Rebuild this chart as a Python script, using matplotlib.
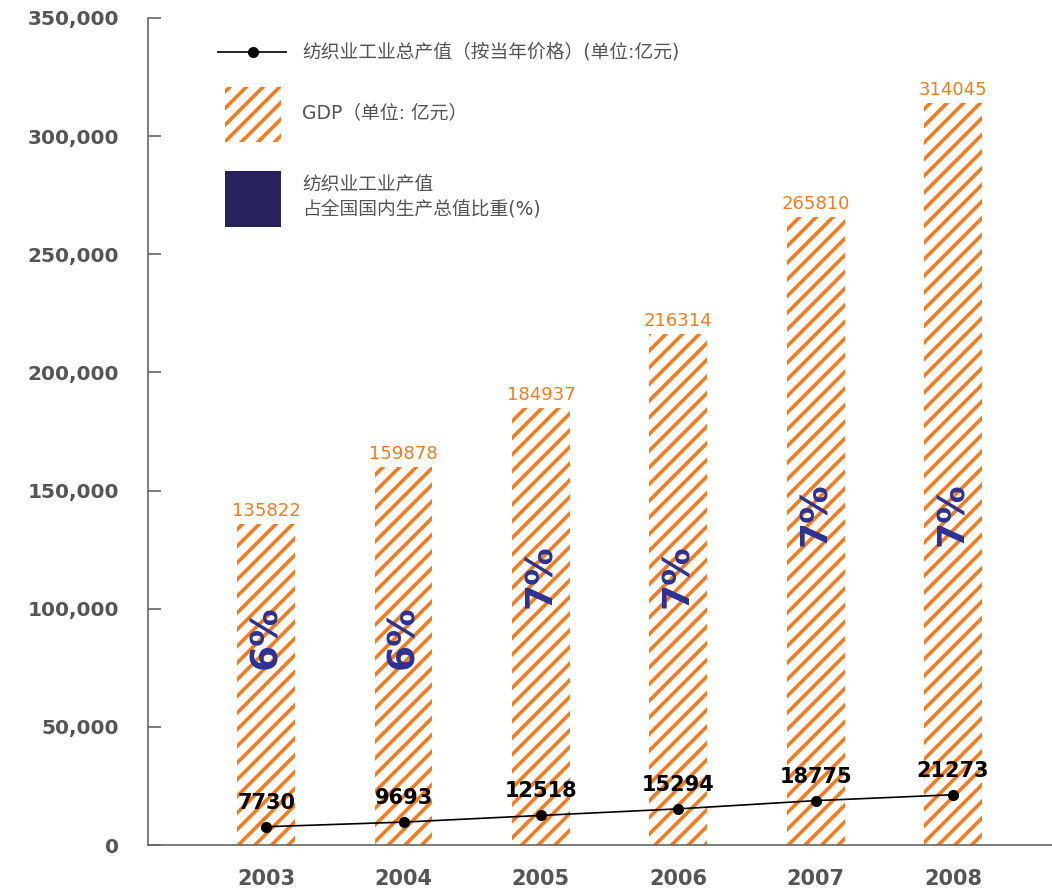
import numpy as np
import matplotlib.pyplot as plt
from matplotlib.patches import Rectangle
from matplotlib.lines import Line2D
from matplotlib.ticker import FuncFormatter

plt.rcParams['font.family'] = ['DejaVu Sans']
plt.rcParams['hatch.linewidth'] = 2.6

# Data
years = ["2003", "2004", "2005", "2006", "2007", "2008"]
gdp = [135822, 159878, 184937, 216314, 265810, 314045]
textile = [7730, 9693, 12518, 15294, 18775, 21273]
share = ["6%", "6%", "7%", "7%", "7%", "7%"]
share_label_y = [88000, 88000, 114000, 114000, 140000, 140000]

orange = "#F47B20"
navy_txt = "#2E3192"
navy_box = "#27215E"
grey = "#555555"
cjk = ['DejaVu Sans', 'Noto Sans CJK SC']

fig = plt.figure(figsize=(10.52, 8.88), dpi=100)
ax = fig.add_axes([148 / 1052, 43 / 888, 1 - 148 / 1052, (845 - 18) / 888])

x = np.arange(len(years))
ax.bar(x, gdp, width=0.42, color="white", edgecolor=orange, hatch="//", linewidth=0)

for xi, v in zip(x, gdp):
    ax.annotate(str(v), (xi, v), xytext=(0, 6), textcoords="offset points",
                ha="center", va="baseline", color=orange, fontsize=13)

for xi, s, yy in zip(x, share, share_label_y):
    ax.text(xi, yy, s, rotation=90, ha="center", va="center", color=navy_txt,
            fontsize=27, fontweight="bold")

ax.plot(x, textile, color="black", lw=1.2, marker="o", ms=7, zorder=3)
for xi, v in zip(x, textile):
    ax.annotate(str(v), (xi, v), xytext=(0, 13), textcoords="offset points",
                ha="center", va="baseline", color="black", fontsize=15,
                fontweight="bold")

ax.set_xlim(-0.86, 5.72)
ax.set_ylim(0, 350000)
ax.set_yticks(np.arange(0, 350001, 50000))
ax.yaxis.set_major_formatter(FuncFormatter(lambda v, p: f"{int(v):,}"))
ax.set_xticks(x)
ax.set_xticklabels(years)

for s in ["top", "right"]:
    ax.spines[s].set_visible(False)
for s in ["left", "bottom"]:
    ax.spines[s].set_color("#666666")
    ax.spines[s].set_linewidth(1.2)

ax.tick_params(axis="y", direction="in", length=9, width=1.2, color="#666666",
               pad=21, labelsize=14.5, labelcolor=grey)
ax.tick_params(axis="x", length=0, pad=17, labelsize=15, labelcolor=grey)
for lab in ax.get_xticklabels() + ax.get_yticklabels():
    lab.set_fontweight("bold")

# Legend drawn in pixel space
lg = fig.add_axes([0, 0, 1, 1])
lg.set_xlim(0, 1052)
lg.set_ylim(888, 0)
lg.axis("off")
lg.add_line(Line2D([218, 286], [52, 52], color="black", lw=1.2))
lg.plot([253], [52], "o", color="black", ms=7)
lg.text(302, 52, "纺织业工业总产值（按当年价格）(单位:亿元)", va="center", ha="left",
        fontsize=13.5, color=grey, family=cjk)
lg.add_patch(Rectangle((225, 87), 56, 55, facecolor="white", edgecolor=orange,
                       hatch="//", linewidth=0))
lg.text(302, 113, "GDP（单位: 亿元）", va="center", ha="left",
        fontsize=13.5, color=grey, family=cjk)
lg.add_patch(Rectangle((225, 171), 56, 56, facecolor=navy_box, linewidth=0))
lg.text(302, 197, "纺织业工业产值\n占全国国内生产总值比重(%)", va="center", ha="left",
        fontsize=13.5, color=grey, family=cjk, linespacing=1.35)

fig.savefig("out.png", dpi=100)
